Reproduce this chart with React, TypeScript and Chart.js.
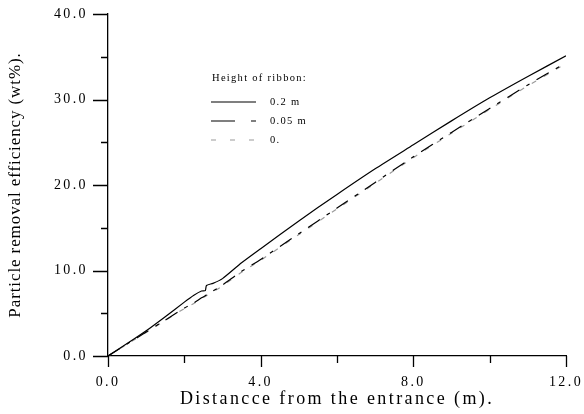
import React, { useEffect, useRef } from "react";
import { Chart, registerables } from "chart.js";

Chart.register(...registerables);

const distance = [0, 0.5, 1, 1.5, 2, 2.25, 2.45, 2.55, 2.58, 2.75, 3, 3.5, 4, 5, 6, 7, 8, 9, 10, 11, 12];
const ribbon02 = [0, 1.45, 2.95, 4.6, 6.3, 7.1, 7.6, 7.65, 8.25, 8.5, 9.05, 10.9, 12.55, 15.8, 18.9, 21.9, 24.7, 27.5, 30.2, 32.7, 35.1];
const ribbon005 = [0, 1.4, 2.8, 4.2, 5.6, 6.2, 6.8, 7.05, 7.15, 7.6, 8.3, 9.9, 11.3, 14.3, 17.3, 20.3, 23.3, 26.15, 28.95, 31.7, 34.3];
const ribbon0 = [0, 1.38, 2.76, 4.15, 5.55, 6.15, 6.7, 6.95, 7.05, 7.5, 8.2, 9.8, 11.2, 14.2, 17.2, 20.2, 23.2, 26.05, 28.85, 31.6, 34.2];
const seriesLabels = ["0.2 m", "0.05 m", "0."];
const legendTitle = "Height of ribbon:";
const xTitle = "Distancce from the entrance (m).";
const yTitle = "Particle removal efficiency (wt%).";

const SERIF = "'Liberation Serif', 'Times New Roman', serif";

const toPts = (ys: number[]) => distance.map((x, i) => ({ x, y: ys[i] }));

const tickPlugin = {
  id: "customTicks",
  beforeDraw(chart: any) {
    chart.ctx.letterSpacing = "2.4px";
  },
  afterDraw(chart: any) {
    const ctx = chart.ctx;
    const xs = chart.scales.x;
    const ys = chart.scales.y;
    ctx.save();
    ctx.strokeStyle = "#000";
    ctx.lineWidth = 1.3;
    ctx.beginPath();
    for (let v = 0; v <= 40; v += 5) {
      const p = Math.round(ys.getPixelForValue(v)) + 0.5;
      const len = v % 10 === 0 ? 15 : 7;
      ctx.moveTo(xs.left - len, p);
      ctx.lineTo(xs.left, p);
    }
    for (let v = 0; v <= 12; v += 2) {
      const p = Math.round(xs.getPixelForValue(v)) + 0.5;
      const len = v % 4 === 0 ? 11 : 7;
      ctx.moveTo(p, ys.bottom);
      ctx.lineTo(p, ys.bottom + len);
    }
    ctx.stroke();

    // y axis title
    ctx.letterSpacing = "0.9px";
    ctx.fillStyle = "#000";
    ctx.font = `17px ${SERIF}`;
    ctx.textAlign = "center";
    ctx.textBaseline = "middle";
    ctx.save();
    ctx.translate(16, (ys.top + ys.bottom) / 2);
    ctx.rotate(-Math.PI / 2);
    ctx.fillText(yTitle, 0, 0);
    ctx.restore();

    // legend
    ctx.letterSpacing = "1.3px";
    ctx.fillStyle = "#000";
    ctx.font = `10.5px ${SERIF}`;
    ctx.textBaseline = "middle";
    ctx.textAlign = "left";
    ctx.fillText(legendTitle, 212, 78);
    chart.data.datasets.forEach((ds: any, i: number) => {
      const y = 102 + i * 19;
      ctx.strokeStyle = ds.borderColor;
      ctx.lineWidth = ds.borderWidth;
      ctx.setLineDash(ds.legendDash || []);
      ctx.beginPath();
      ctx.moveTo(211, y);
      ctx.lineTo(256, y);
      ctx.stroke();
      ctx.setLineDash([]);
      ctx.fillStyle = "#000";
      ctx.fillText(ds.label, 270, y);
    });
    ctx.restore();
  },
};

export default function App() {
  const ref = useRef<HTMLCanvasElement>(null);
  useEffect(() => {
    if (!ref.current) return;
    const chart = new Chart(ref.current, {
      type: "line",
      data: {
        datasets: [
          {
            label: seriesLabels[0],
            data: toPts(ribbon02),
            borderColor: "#000",
            borderWidth: 1.2,
            pointRadius: 0,
            tension: 0.2,
            legendDash: [],
          } as any,
          {
            label: seriesLabels[1],
            data: toPts(ribbon005),
            borderColor: "#000",
            borderWidth: 1.2,
            borderDash: [14, 8, 4, 8],
            pointRadius: 0,
            tension: 0.2,
            legendDash: [24, 16, 5, 100],
          } as any,
          {
            label: seriesLabels[2],
            data: toPts(ribbon0),
            borderColor: "#9a9a9a",
            borderWidth: 1.2,
            borderDash: [5, 9],
            pointRadius: 0,
            tension: 0.2,
            legendDash: [5, 14],
          } as any,
        ],
      },
      options: {
        responsive: false,
        animation: false,
        layout: { padding: { left: 0, right: 18, top: 14, bottom: 0 } },
        plugins: { legend: { display: false }, tooltip: { enabled: false } },
        scales: {
          x: {
            type: "linear",
            min: 0,
            max: 12,
            afterFit: (s: any) => {
              s.height = 58;
              s.paddingLeft = 0;
              s.paddingRight = 0;
            },
            grid: { display: false, drawTicks: false },
            border: { display: true, color: "#000", width: 1.3 },
            ticks: {
              stepSize: 2,
              padding: 18,
              color: "#000",
              font: { family: SERIF, size: 14 },
              maxRotation: 0,
              autoSkip: false,
              callback: (v: any) => (Number(v) % 4 === 0 ? Number(v).toFixed(1) : ""),
            },
            title: {
              display: true,
              text: xTitle,
              color: "#000",
              font: { family: SERIF, size: 18 },
              padding: { top: 0, bottom: 4 },
            },
          },
          y: {
            type: "linear",
            min: 0,
            max: 40,
            afterFit: (s: any) => {
              s.width = 108;
              s.paddingTop = 0;
              s.paddingBottom = 0;
            },
            grid: { display: false, drawTicks: false },
            border: { display: true, color: "#000", width: 1.3 },
            ticks: {
              stepSize: 5,
              padding: 20,
              color: "#000",
              font: { family: SERIF, size: 14 },
              autoSkip: false,
              callback: (v: any) => (Number(v) % 10 === 0 ? Number(v).toFixed(1) : ""),
            },
            title: { display: false },
          },
        },
      },
      plugins: [tickPlugin],
    });
    return () => chart.destroy();
  }, []);
  return (
    <div style={{ position: "fixed", left: 0, top: 0, width: 584, height: 414, background: "#fff" }}>
      <canvas ref={ref} width={584} height={414} />
    </div>
  );
}
